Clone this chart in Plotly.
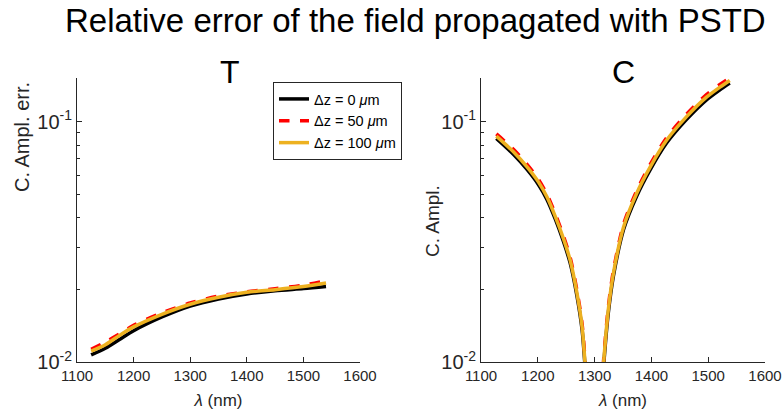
import plotly.graph_objects as go

# ---- data ----
lam_T = [1125, 1150, 1175, 1200, 1250, 1300, 1350, 1400, 1450, 1500, 1540]
T_dz0 = [0.0107, 0.0114, 0.0124, 0.0135, 0.0154, 0.0171, 0.0183, 0.0192, 0.0198, 0.0202, 0.0206]
T_dz50 = [0.0113, 0.0121, 0.0131, 0.0142, 0.0160, 0.0176, 0.0188, 0.0196, 0.0202, 0.0209, 0.0218]
T_dz100 = [0.0111, 0.0118, 0.0129, 0.0140, 0.0158, 0.0174, 0.0186, 0.0195, 0.0200, 0.0206, 0.0213]

lam_C = [1127, 1157, 1181, 1201, 1216, 1231, 1245, 1257, 1269, 1278, 1283, 1290, 1300,
         1310, 1316, 1324, 1333, 1351, 1374, 1398, 1427, 1462, 1497, 1520, 1538]
C_dz0 = [0.0852, 0.0732, 0.0633, 0.0548, 0.0475, 0.0392, 0.0318, 0.0258, 0.0188, 0.0136, 0.0097, 0.0053, 0.0014,
         0.0058, 0.0097, 0.0159, 0.0227, 0.0356, 0.0490, 0.0632, 0.0817, 0.1023, 0.1233, 0.1355, 0.1448]
C_dz50 = [0.0890, 0.0768, 0.0665, 0.0576, 0.0499, 0.0412, 0.0335, 0.0272, 0.0198, 0.0144, 0.0103, 0.0057, 0.0016,
          0.0062, 0.0103, 0.0168, 0.0239, 0.0374, 0.0515, 0.0665, 0.0860, 0.1076, 0.1297, 0.1425, 0.1522]
C_dz100 = [0.0871, 0.0750, 0.0649, 0.0562, 0.0487, 0.0402, 0.0327, 0.0265, 0.0193, 0.0140, 0.0100, 0.0055, 0.0015,
           0.0060, 0.0100, 0.0164, 0.0233, 0.0365, 0.0503, 0.0649, 0.0839, 0.1050, 0.1265, 0.1390, 0.1485]

series_names = ["Δz = 0 <i>μ</i>m", "Δz = 50 <i>μ</i>m", "Δz = 100 <i>μ</i>m"]
colors = ["#000000", "#FF0000", "#EDB120"]
dashes = ["solid", "dash", "solid"]

x_ticks = [1100, 1200, 1300, 1400, 1500, 1600]
y_ticks = [0.01, 0.1]
y_ticktext = ["10<sup>-2</sup>", "10<sup>-1</sup>"]
y_minor = [0.02, 0.03, 0.04, 0.05, 0.06, 0.07, 0.08, 0.09]

W, H = 784, 417
FONT = "Liberation Sans, Arial, sans-serif"
AX = "#262626"

fig = go.Figure()

panels = [(lam_T, [T_dz0, T_dz50, T_dz100], "x", "y"),
          (lam_C, [C_dz0, C_dz50, C_dz100], "x2", "y2")]
for pi, (lam, ys, xa, ya) in enumerate(panels):
    for i, yv in enumerate(ys):
        fig.add_trace(go.Scatter(
            x=lam, y=yv, mode="lines", name=series_names[i],
            line=dict(color=colors[i], width=3.5, dash=dashes[i], shape="spline", smoothing=0.8),
            xaxis=xa, yaxis=ya, showlegend=(pi == 0)))

def xaxis(domain, anchor):
    return dict(domain=domain, anchor=anchor, range=[1100, 1600], tickvals=x_ticks,
                ticks="inside", ticklen=5, tickcolor=AX, showline=True, linecolor=AX,
                linewidth=1, showgrid=False, zeroline=False, automargin=False,
                tickfont=dict(family=FONT, size=15, color=AX),
                title=dict(text="<i>λ</i> (nm)", font=dict(family=FONT, size=17, color=AX), standoff=11))

def yaxis(domain, anchor):
    return dict(domain=domain, anchor=anchor, type="log", range=[-2, -0.818],
                tickmode="array", tickvals=y_ticks, ticktext=y_ticktext,
                ticks="inside", ticklen=5, tickcolor=AX, showline=True, linecolor=AX,
                linewidth=1, showgrid=False, zeroline=False, automargin=False,
                minor=dict(tickmode="array", tickvals=y_minor, ticks="inside", ticklen=3,
                           tickcolor=AX, showgrid=False),
                tickfont=dict(family=FONT, size=20, color=AX))

ydom = [(H - 362) / H, (H - 78) / H]

def ann(text, x, y, size, color="#000000", angle=0):
    return dict(text=text, x=x / W, y=1 - y / H, xref="paper", yref="paper", showarrow=False,
                xanchor="center", yanchor="middle", textangle=angle,
                font=dict(family=FONT, size=size, color=color))

fig.update_layout(
    width=W, height=H,
    margin=dict(l=0, r=0, t=0, b=0, autoexpand=False),
    paper_bgcolor="white", plot_bgcolor="white",
    xaxis=xaxis([77 / W, 360 / W], "y"),
    yaxis=yaxis(ydom, "x"),
    xaxis2=xaxis([481 / W, 765 / W], "y2"),
    yaxis2=yaxis(ydom, "x2"),
    showlegend=True,
    legend=dict(x=273 / W, y=1 - 82 / H, xanchor="left", yanchor="top",
                bgcolor="white", bordercolor="#262626", borderwidth=1,
                font=dict(family=FONT, size=14.5, color="#000000"),
                itemwidth=30, tracegroupgap=0),
    annotations=[
        ann("Relative error of the field propagated with PSTD", 415, 20, 33),
        ann("T", 230, 72, 32),
        ann("C", 623, 72, 32),
        ann("C. Ampl. err.", 22, 137, 20, AX, -90),
        ann("C. Ampl.", 432, 221, 19, AX, -90),
    ],
)

fig.write_html("out.html", config={"displayModeBar": False},
               post_script="document.body.style.margin='0';")
